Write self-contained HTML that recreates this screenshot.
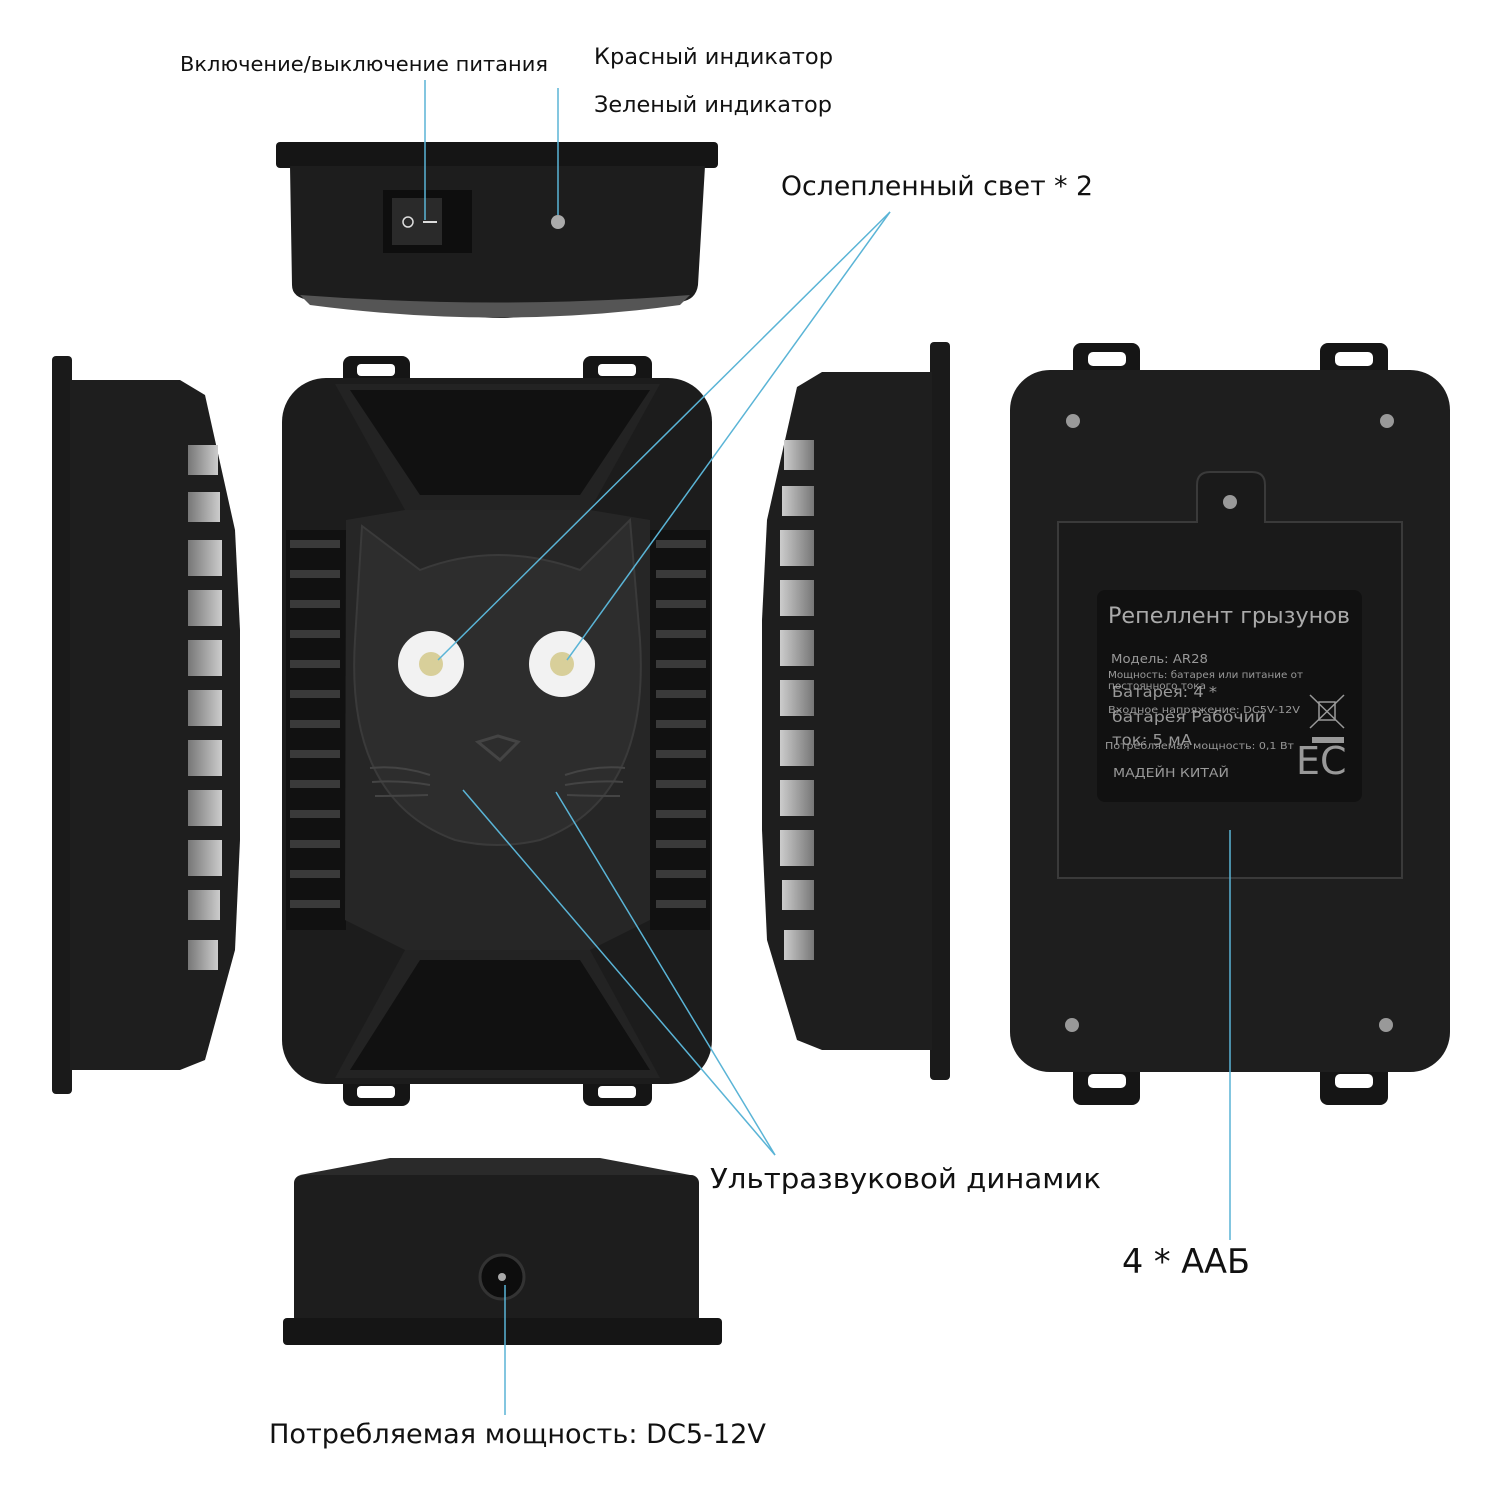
<!DOCTYPE html>
<html><head><meta charset="utf-8"><style>
html,body{margin:0;padding:0;background:#fff;}
svg{display:block;}
</style></head><body>
<svg width="1500" height="1500" viewBox="0 0 1500 1500" xmlns="http://www.w3.org/2000/svg">
<defs>
<linearGradient id="grill" x1="0" y1="0" x2="1" y2="0"><stop offset="0" stop-color="#777"/><stop offset="1" stop-color="#ccc"/></linearGradient>
<linearGradient id="grill2" x1="1" y1="0" x2="0" y2="0"><stop offset="0" stop-color="#777"/><stop offset="1" stop-color="#ccc"/></linearGradient>
</defs>
<rect width="1500" height="1500" fill="#fff"/>

<!-- TOP VIEW -->
<rect x="276" y="142" width="442" height="26" rx="4" fill="#151515"/>
<path d="M290 166 H705 L698 285 Q696 300 680 302 L560 310 Q500 326 440 310 L310 300 Q292 298 292 285 Z" fill="#1d1d1d"/>
<path d="M300 295 Q500 310 690 295 L680 305 Q500 330 310 305 Z" fill="#555"/>
<rect x="383" y="190" width="89" height="63" fill="#0e0e0e"/>
<rect x="392" y="198" width="50" height="47" fill="#2a2a2a"/>
<circle cx="408" cy="222" r="5" fill="none" stroke="#ddd" stroke-width="1.5"/>
<line x1="423" y1="222" x2="437" y2="222" stroke="#ddd" stroke-width="2"/>
<circle cx="558" cy="222" r="7" fill="#aaa"/>

<!-- LEFT SIDE VIEW -->
<rect x="52" y="356" width="20" height="738" rx="4" fill="#1a1a1a"/>
<path d="M70 380 H180 L205 395 L235 530 L240 630 L240 840 L235 950 L205 1060 L180 1070 H70 Z" fill="#1e1e1e"/>
<g fill="url(#grill)">
<rect x="188" y="445" width="30" height="30"/><rect x="188" y="492" width="32" height="30"/>
<rect x="188" y="540" width="34" height="36"/><rect x="188" y="590" width="34" height="36"/>
<rect x="188" y="640" width="34" height="36"/><rect x="188" y="690" width="34" height="36"/>
<rect x="188" y="740" width="34" height="36"/><rect x="188" y="790" width="34" height="36"/>
<rect x="188" y="840" width="34" height="36"/><rect x="188" y="890" width="32" height="30"/>
<rect x="188" y="940" width="30" height="30"/>
</g>

<!-- RIGHT SIDE VIEW -->
<rect x="930" y="342" width="20" height="738" rx="4" fill="#1a1a1a"/>
<path d="M932 372 H822 L797 387 L767 520 L762 620 L762 830 L767 940 L797 1040 L822 1050 H932 Z" fill="#1e1e1e"/>
<g fill="url(#grill2)">
<rect x="784" y="440" width="30" height="30"/><rect x="782" y="486" width="32" height="30"/>
<rect x="780" y="530" width="34" height="36"/><rect x="780" y="580" width="34" height="36"/>
<rect x="780" y="630" width="34" height="36"/><rect x="780" y="680" width="34" height="36"/>
<rect x="780" y="730" width="34" height="36"/><rect x="780" y="780" width="34" height="36"/>
<rect x="780" y="830" width="34" height="36"/><rect x="782" y="880" width="32" height="30"/>
<rect x="784" y="930" width="30" height="30"/>
</g>

<!-- FRONT VIEW -->
<g fill="#151515">
<rect x="343" y="356" width="67" height="40" rx="8"/><rect x="583" y="356" width="69" height="40" rx="8"/>
<rect x="343" y="1068" width="67" height="38" rx="8"/><rect x="583" y="1068" width="69" height="38" rx="8"/>
</g>
<g fill="#fff"><rect x="357" y="364" width="38" height="12" rx="4"/><rect x="598" y="364" width="38" height="12" rx="4"/>
<rect x="357" y="1086" width="38" height="12" rx="4"/><rect x="598" y="1086" width="38" height="12" rx="4"/></g>
<rect x="282" y="378" width="430" height="706" rx="44" fill="#1c1c1c"/>
<g fill="#111">
<rect x="286" y="530" width="60" height="400"/><rect x="650" y="530" width="60" height="400"/>
</g>
<g fill="#3a3a3a">
<rect x="290" y="540" width="50" height="8"/><rect x="290" y="570" width="50" height="8"/><rect x="290" y="600" width="50" height="8"/>
<rect x="290" y="630" width="50" height="8"/><rect x="290" y="660" width="50" height="8"/><rect x="290" y="690" width="50" height="8"/>
<rect x="290" y="720" width="50" height="8"/><rect x="290" y="750" width="50" height="8"/><rect x="290" y="780" width="50" height="8"/>
<rect x="290" y="810" width="50" height="8"/><rect x="290" y="840" width="50" height="8"/><rect x="290" y="870" width="50" height="8"/><rect x="290" y="900" width="50" height="8"/>
<rect x="656" y="540" width="50" height="8"/><rect x="656" y="570" width="50" height="8"/><rect x="656" y="600" width="50" height="8"/>
<rect x="656" y="630" width="50" height="8"/><rect x="656" y="660" width="50" height="8"/><rect x="656" y="690" width="50" height="8"/>
<rect x="656" y="720" width="50" height="8"/><rect x="656" y="750" width="50" height="8"/><rect x="656" y="780" width="50" height="8"/>
<rect x="656" y="810" width="50" height="8"/><rect x="656" y="840" width="50" height="8"/><rect x="656" y="870" width="50" height="8"/><rect x="656" y="900" width="50" height="8"/>
</g>
<path d="M335 384 H660 L590 510 H405 Z" fill="#232323"/>
<path d="M350 390 H650 L580 495 H420 Z" fill="#111"/>
<path d="M405 950 H590 L660 1078 H335 Z" fill="#232323"/>
<path d="M420 960 H580 L650 1070 H350 Z" fill="#111"/>
<path d="M346 520 L345 920 L405 950 H590 L650 920 L650 520 L590 510 H405 Z" fill="#262626"/>
<path d="M362 526 L420 570 Q497 540 580 570 L630 520 L640 640 Q650 800 540 840 Q497 850 455 840 Q345 800 355 640 Z" fill="#2d2d2d" stroke="#3a3a3a" stroke-width="2"/>
<circle cx="431" cy="664" r="33" fill="#f2f2f2"/><circle cx="431" cy="664" r="12" fill="#d8cf9a"/>
<circle cx="562" cy="664" r="33" fill="#f2f2f2"/><circle cx="562" cy="664" r="12" fill="#d8cf9a"/>
<path d="M478 742 L498 736 L518 742 L500 760 Z" fill="none" stroke="#444" stroke-width="3"/>
<g stroke="#444" stroke-width="2" fill="none">
<path d="M370 768 Q400 765 430 775"/><path d="M372 782 Q400 780 430 785"/><path d="M375 796 Q400 796 428 795"/>
<path d="M625 768 Q595 765 565 775"/><path d="M623 782 Q595 780 565 785"/><path d="M620 796 Q595 796 567 795"/>
</g>

<!-- BACK VIEW -->
<g fill="#151515">
<rect x="1073" y="343" width="67" height="44" rx="8"/><rect x="1320" y="343" width="68" height="44" rx="8"/>
<rect x="1073" y="1055" width="67" height="50" rx="8"/><rect x="1320" y="1055" width="68" height="50" rx="8"/>
</g>
<g fill="#fff"><rect x="1088" y="352" width="38" height="14" rx="5"/><rect x="1335" y="352" width="38" height="14" rx="5"/>
<rect x="1088" y="1074" width="38" height="14" rx="5"/><rect x="1335" y="1074" width="38" height="14" rx="5"/></g>
<rect x="1010" y="370" width="440" height="702" rx="40" fill="#1e1e1e"/>
<path d="M1058 522 H1197 V485 Q1197 472 1210 472 H1252 Q1265 472 1265 485 V522 H1402 V878 H1058 Z" fill="#1a1a1a" stroke="#3a3a3a" stroke-width="2"/>
<g fill="#999"><circle cx="1073" cy="421" r="7"/><circle cx="1387" cy="421" r="7"/><circle cx="1230" cy="502" r="7"/><circle cx="1072" cy="1025" r="7"/><circle cx="1386" cy="1025" r="7"/></g>
<rect x="1097" y="590" width="265" height="212" rx="8" fill="#111"/>
<g style="font-family:'DejaVu Sans','Liberation Sans',sans-serif" fill="#999">
<text x="1108" y="623" font-size="22" fill="#aaa" textLength="242" lengthAdjust="spacingAndGlyphs">Репеллент грызунов</text>
<text x="1111" y="663" font-size="12" textLength="97" lengthAdjust="spacingAndGlyphs">Модель: AR28</text>
<text x="1108" y="678" font-size="9.5" textLength="195" lengthAdjust="spacingAndGlyphs">Мощность: батарея или питание от</text>
<text x="1108" y="689" font-size="9.5" textLength="98" lengthAdjust="spacingAndGlyphs">постоянного тока</text>
<text x="1112" y="697" font-size="15" textLength="105" lengthAdjust="spacingAndGlyphs">Батарея: 4 *</text>
<text x="1108" y="713" font-size="9.5" textLength="192" lengthAdjust="spacingAndGlyphs">Входное напряжение: DC5V-12V</text>
<text x="1112" y="722" font-size="15" textLength="154" lengthAdjust="spacingAndGlyphs">батарея Рабочий</text>
<text x="1112" y="745" font-size="15" textLength="80" lengthAdjust="spacingAndGlyphs">ток: 5 мА</text>
<text x="1105" y="749" font-size="9.5" textLength="189" lengthAdjust="spacingAndGlyphs">Потребляемая мощность: 0,1 Вт</text>
<text x="1113" y="777" font-size="12" textLength="116" lengthAdjust="spacingAndGlyphs">МАДЕЙН КИТАЙ</text>
<text x="1296" y="774" font-size="38">EC</text>
</g>
<rect x="1312" y="737" width="32" height="6" fill="#999"/>
<g stroke="#999" stroke-width="1.5" fill="none"><path d="M1310 695 L1344 728 M1344 695 L1310 728"/><rect x="1319" y="702" width="16" height="18"/></g>

<!-- BOTTOM VIEW -->
<path d="M300 1175 L390 1158 H600 L690 1175 Z" fill="#2a2a2a"/>
<rect x="294" y="1175" width="405" height="150" rx="8" fill="#1d1d1d"/>
<rect x="283" y="1318" width="439" height="27" rx="4" fill="#151515"/>
<circle cx="502" cy="1277" r="22" fill="#0d0d0d" stroke="#333" stroke-width="3"/>
<circle cx="502" cy="1277" r="4" fill="#aaa"/>

<!-- LEADER LINES -->
<g stroke="#5ab4d6" stroke-width="1.5" fill="none">
<line x1="425" y1="80" x2="425" y2="220"/>
<line x1="558" y1="88" x2="558" y2="215"/>
<line x1="890" y1="212" x2="438" y2="660"/>
<line x1="890" y1="212" x2="567" y2="660"/>
<line x1="463" y1="790" x2="775" y2="1155"/>
<line x1="556" y1="792" x2="775" y2="1155"/>
<line x1="1230" y1="830" x2="1230" y2="1240"/>
<line x1="505" y1="1285" x2="505" y2="1415"/>
</g>

<!-- LABELS -->
<g style="font-family:'DejaVu Sans','Liberation Sans',sans-serif" fill="#111">
<text x="180" y="71" font-size="20" textLength="368" lengthAdjust="spacingAndGlyphs">Включение/выключение питания</text>
<text x="594" y="64" font-size="22" textLength="239" lengthAdjust="spacingAndGlyphs">Красный индикатор</text>
<text x="594" y="112" font-size="22" textLength="238" lengthAdjust="spacingAndGlyphs">Зеленый индикатор</text>
<text x="781" y="195" font-size="27" textLength="312" lengthAdjust="spacingAndGlyphs">Ослепленный свет * 2</text>
<text x="710" y="1188" font-size="28" textLength="391" lengthAdjust="spacingAndGlyphs">Ультразвуковой динамик</text>
<text x="1122" y="1273" font-size="34" textLength="128" lengthAdjust="spacingAndGlyphs">4 * ААБ</text>
<text x="269" y="1443" font-size="27" textLength="497" lengthAdjust="spacingAndGlyphs">Потребляемая мощность: DC5-12V</text>
</g>
</svg>
</body></html>
